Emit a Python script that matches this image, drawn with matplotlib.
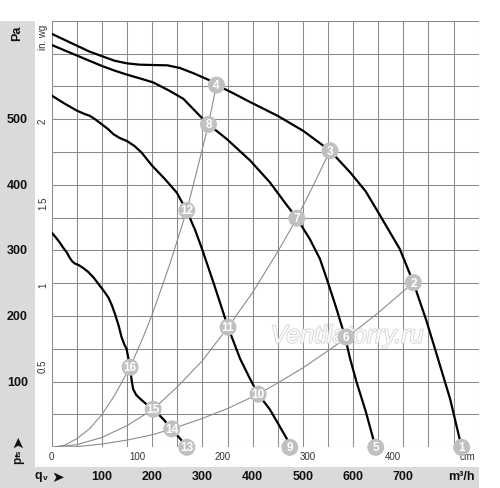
import matplotlib
matplotlib.use("Agg")
import matplotlib.pyplot as plt
import matplotlib.transforms as mtransforms
from matplotlib.patches import Rectangle
import matplotlib.patheffects as pe

plt.rcParams['font.family'] = ['Liberation Sans', 'DejaVu Sans']

# ---- fan curves (qv in m3/h, pfs in Pa) ----
c1_q = [0, 25, 50, 75, 100, 125, 150, 175, 200, 230, 255, 282, 312, 328, 360, 395, 450, 501,
        554, 594, 625, 650, 693, 720, 745, 763, 793, 816]
c1_p = [630, 621, 612, 603, 596, 589, 585, 583, 582.5, 582, 578, 570, 560, 552, 540, 526, 505,
        482, 452, 419, 390, 358, 302, 251, 195, 150, 74, 0]

c2_q = [0, 25, 50, 75, 100, 125, 149, 176, 202, 235, 262, 295, 312, 348, 395, 434, 464, 488,
        514, 534, 550, 567, 584, 594, 607, 625, 640, 645]
c2_p = [613, 605, 597, 589, 581, 574, 568, 562, 556, 543, 531, 505, 492, 470, 437, 404, 373,
        349, 317, 287, 251, 211, 168, 135, 99, 55, 13, 0]

c3_q = [0, 25, 50, 65, 76, 88, 100, 112, 123, 136, 149, 165, 179, 200, 225, 249, 269, 285,
        298, 322, 351, 375, 395, 411, 434, 450, 468, 474]
c3_p = [536, 524, 513, 508, 505, 499, 492, 485, 477, 471, 467, 459, 449, 429, 409, 388, 360,
        332, 305, 251, 183, 135, 104, 81, 58, 37, 13, 0]

c4_q = [0, 8, 16, 23, 30, 35, 40, 46, 53, 63, 73, 83, 93, 103, 113, 120, 126, 133, 139, 145,
        149, 156, 159, 162, 168, 176, 188, 202, 222, 239, 259, 269]
c4_p = [327, 320, 312, 304, 297, 290, 284, 280, 278, 273, 267, 259, 249, 239, 228, 216, 203,
        186, 168, 156, 150, 122, 103, 89, 80, 74, 66, 58, 43, 28, 10, 0]

# ---- system curves ----
s1_q = [0, 25, 50, 75, 100, 125, 156, 180, 200, 235, 269, 300, 312, 328]
s1_p = [0, 3, 13, 28, 50, 79, 122, 164, 202, 279, 361, 455, 492, 552]
s2_q = [0, 50, 100, 150, 202, 250, 300, 351, 400, 450, 488, 520, 554]
s2_p = [0, 4, 15, 33, 58, 92, 132, 183, 236, 298, 349, 398, 452]
s3_q = [0, 50, 100, 150, 200, 239, 300, 350, 411, 450, 500, 550, 587, 650, 720]
s3_p = [0, 1, 5, 11, 19, 28, 44, 59, 81, 98, 121, 147, 167, 205, 251]

# ---- operating points ----
pt_q = [816, 720, 554, 328, 645, 586, 488, 312, 474, 411, 351, 269, 269, 239, 202, 156]
pt_p = [0, 251, 452, 552, 0, 168, 349, 492, 0, 81, 183, 361, 0, 28, 58, 122]
pt_lbl = ['1', '2', '3', '4', '5', '6', '7', '8', '9', '10', '11', '12', '13', '14', '15', '16']

# ---- axis labels ----
pa_ticks = [100, 200, 300, 400, 500]
inwg_ticks = [0.5, 1, 1.5, 2]
inwg_lbls = ['0.5', '1', '1.5', '2']
cfm_ticks = [0, 100, 200, 300, 400]
m3h_ticks = [100, 200, 300, 400, 500, 600, 700]

W, H = 500, 489
fig = plt.figure(figsize=(W / 100, H / 100), dpi=100)
fig.patch.set_facecolor('white')

# gray strips (behind everything)
gray = '#dadada'
fig.patches.append(Rectangle((0, 0), 35 / W, (H - 21.7) / H, transform=fig.transFigure,
                             facecolor=gray, edgecolor='none', zorder=-10))
fig.patches.append(Rectangle((0, 0), 478.7 / W, (H - 467.7) / H, transform=fig.transFigure,
                             facecolor=gray, edgecolor='none', zorder=-10))

L, R, T, B = 51.7, 478.7, 21.7, 448.3
ax = fig.add_axes([L / W, (H - B) / H, (R - L) / W, (B - T) / H])
ax.set_xlim(0, 850)
ax.set_ylim(0, 650)
ax.set_xticks(range(0, 851, 50))
ax.set_yticks(range(0, 651, 50))
ax.grid(True, color='#8a8a8a', lw=0.75)
ax.tick_params(length=0, labelbottom=False, labelleft=False)
for s in ax.spines.values():
    s.set_visible(False)
ax.set_axisbelow(True)

# system curves
for q, p in [(s1_q, s1_p), (s2_q, s2_p), (s3_q, s3_p)]:
    ax.plot(q, p, color='#8c8c8c', lw=0.8, zorder=2)

# fan curves
for q, p in [(c1_q, c1_p), (c2_q, c2_p), (c3_q, c3_p), (c4_q, c4_p)]:
    ax.plot(q, p, color='black', lw=1.6, zorder=3, solid_capstyle='round', solid_joinstyle='round')

# watermark
ax.text(588, 170, 'Ventilatorry.ru', fontsize=18, style='italic', color='white', alpha=0.9,
        ha='center', va='center', zorder=4,
        path_effects=[pe.withStroke(linewidth=1.2, foreground='#d0d0d0')])

# operating points
ax.scatter(pt_q, pt_p, s=150, color='#c0c0c0', edgecolor='none', zorder=6, clip_on=False)
for q, p, t in zip(pt_q, pt_p, pt_lbl):
    ax.text(q, p, t, color='white', fontsize=8.5, fontweight='bold', ha='center', va='center',
            zorder=7, clip_on=False)

ft = fig.transFigure
dark = '#111111'

# Pa labels
tr_fig_y = mtransforms.blended_transform_factory(ft, ax.transData)
for v in pa_ticks:
    ax.text(17.5 / W, v, str(v), transform=tr_fig_y, fontsize=9, fontweight='bold',
            ha='center', va='center', color=dark)
ax.text(16.7 / W, 1 - 33 / H, 'Pa', transform=ft, fontsize=9, fontweight='bold',
        rotation=90, ha='center', va='center', color=dark)
# p_fs with arrow (rotated, reading upward)
ax.text(18 / W, 1 - 460 / H, 'p', transform=ft, fontsize=8.5, fontweight='bold',
        rotation=90, ha='center', va='center', color=dark)
ax.text(19.5 / W, 1 - 453.5 / H, 'fs', transform=ft, fontsize=6, fontweight='bold',
        rotation=90, ha='center', va='center', color=dark)
ax.text(17.5 / W, 1 - 442 / H, '➤', transform=ft, fontsize=11, rotation=90,
        family='DejaVu Sans', ha='center', va='center', color=dark)

# in. wg labels
for v, t in zip(inwg_ticks, inwg_lbls):
    ax.text(43 / W, v * 249.09, t, transform=tr_fig_y, fontsize=7, rotation=90,
            ha='center', va='center', color='#333333')
ax.text(43 / W, 1 - 37 / H, 'in. wg', transform=ft, fontsize=7, rotation=90,
        ha='center', va='center', color='#333333')

# cfm labels
tr_x_fig = mtransforms.blended_transform_factory(ax.transData, ft)
for v in cfm_ticks:
    ax.text(v * 1.699, 1 - 456.7 / H, str(v), transform=tr_x_fig, fontsize=7,
            ha='center', va='center', color='#333333')
ax.text(828, 1 - 457.5 / H, 'cfm', transform=tr_x_fig, fontsize=7,
        ha='center', va='center', color='#333333', zorder=1)

# m3/h labels
for v in m3h_ticks:
    ax.text(v, 1 - 477.3 / H, str(v), transform=tr_x_fig, fontsize=9, fontweight='bold',
            ha='center', va='center', color=dark)
ax.text(816, 1 - 477.3 / H, 'm³/h', transform=tr_x_fig, fontsize=9, fontweight='bold',
        ha='center', va='center', color=dark)
# q_v with arrow
ax.text(38.5 / W, 1 - 476.5 / H, 'q', transform=ft, fontsize=9, fontweight='bold',
        ha='center', va='center', color=dark)
ax.text(44.8 / W, 1 - 478.5 / H, 'v', transform=ft, fontsize=6, fontweight='bold',
        ha='center', va='center', color=dark)
ax.text(57.5 / W, 1 - 477.5 / H, '➤', transform=ft, fontsize=11,
        family='DejaVu Sans', ha='center', va='center', color=dark)

fig.savefig('out.png', dpi=100, facecolor='white')
